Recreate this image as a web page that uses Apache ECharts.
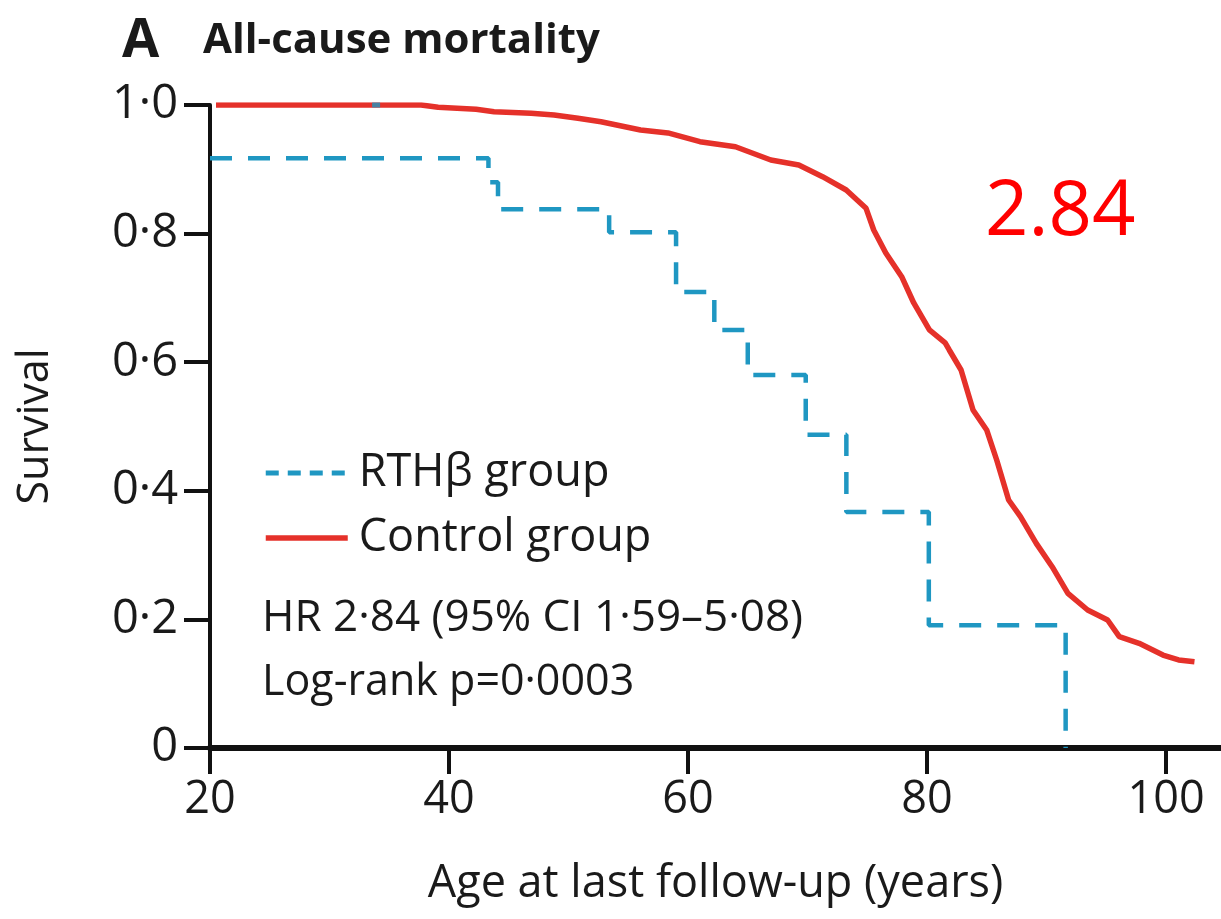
<!DOCTYPE html>
<html>
<head>
<meta charset="utf-8">
<script src="https://cdn.jsdelivr.net/npm/echarts@6/dist/echarts.min.js"></script>
<style>
  html, body { margin: 0; padding: 0; background: #ffffff; }
  #chart { width: 1221px; height: 919px; }
</style>
</head>
<body>
<div id="chart"></div>
<script>
// Axis ticks
const xTicks = [20, 40, 60, 80, 100];
const yTicks = [0, 0.2, 0.4, 0.6, 0.8, 1.0];

// RTHβ group: Kaplan–Meier steps (age at event, survival after event)
const rthAge  = [20, 43.3, 44.1, 53.4, 59.0, 62.2, 65.0, 69.85, 73.25, 80.15, 91.6];
const rthSurv = [0.917, 0.88, 0.838, 0.802, 0.709, 0.65, 0.58, 0.487, 0.367, 0.191, 0];

// RTHβ censoring mark
const rthCensorAge  = [33.9];
const rthCensorSurv = [1.0];

// Control group survival curve
const ctrlAge  = [20.5, 37.67, 39.09, 42.27, 43.77, 46.87, 48.79, 50.79, 52.72, 56.03, 58.32,
                  61.0, 63.97, 66.93, 69.27, 71.26, 73.24, 74.9, 75.54, 76.55, 77.88, 78.89,
                  80.2, 81.52, 81.86, 82.85, 83.85, 84.99, 85.83, 86.83, 87.82, 89.14, 90.47,
                  91.79, 93.44, 95.11, 96.09, 97.75, 99.74, 101.05, 102.38];
const ctrlSurv = [1.0, 1.0, 0.9964, 0.9933, 0.9896, 0.9871, 0.9844, 0.9793, 0.974, 0.9611, 0.9565,
                  0.9429, 0.9351, 0.9145, 0.9067, 0.8885, 0.8678, 0.8393, 0.8056, 0.7698, 0.733, 0.6921,
                  0.6501, 0.6299, 0.619, 0.5879, 0.5257, 0.4946, 0.4479, 0.3857, 0.3597, 0.3183, 0.282,
                  0.2406, 0.2146, 0.1991, 0.1731, 0.1628, 0.1446, 0.1369, 0.1342];

// Summary statistics
const hrValue = '2.84';
const hrText = 'HR 2·84 (95% CI 1·59–5·08)';
const pText = 'Log-rank p=0·0003';

const FONT = '"Open Sans", "Noto Sans", sans-serif';
const INK = '#1a1a1a';
const RED = '#e5312a';
const BLUE = '#1f97c2';

const zip = (a, b) => a.map((v, i) => [v, b[i]]);

const chart = echarts.init(document.getElementById('chart'), null, { renderer: 'canvas' });

chart.setOption({
  backgroundColor: '#ffffff',
  animation: false,
  title: [
    { text: 'A', left: 117, top: 10,
      textStyle: { fontFamily: FONT, fontSize: 54, fontWeight: 'bold', color: INK } },
    { text: 'All-cause mortality', left: 198, top: 15,
      textStyle: { fontFamily: FONT, fontSize: 42, fontWeight: 'bold', color: INK } }
  ],
  grid: { left: 210, right: 0, top: 105, bottom: 171, containLabel: false },
  legend: {
    orient: 'vertical',
    left: 258,
    top: 444,
    itemWidth: 82,
    itemHeight: 14,
    itemGap: 17,
    selectedMode: false,
    itemStyle: { opacity: 0 },
    textStyle: { fontFamily: FONT, fontSize: 45, color: INK, lineHeight: 48, padding: [0, 0, 0, 6] },
    data: [
      { name: 'RTHβ group', lineStyle: { type: [13, 9], width: 5 }, itemStyle: { opacity: 0 } },
      { name: 'Control group', lineStyle: { width: 5.5 }, itemStyle: { opacity: 0 } }
    ]
  },
  xAxis: {
    type: 'value',
    min: 20,
    max: 104.6,
    interval: 20,
    name: 'Age at last follow-up (years)',
    nameLocation: 'middle',
    nameGap: 112,
    nameTextStyle: { fontFamily: FONT, fontSize: 45, color: INK, lineHeight: 48 },
    axisLine: { show: true, lineStyle: { color: '#111111', width: 6 } },
    axisTick: { show: true, inside: false, length: 26, customValues: xTicks,
                lineStyle: { color: '#111111', width: 4 } },
    axisLabel: { customValues: xTicks, margin: 28, fontFamily: FONT, fontSize: 45,
                 color: INK, lineHeight: 48 },
    splitLine: { show: false }
  },
  yAxis: {
    type: 'value',
    min: 0,
    max: 1,
    interval: 0.2,
    name: 'Survival',
    nameLocation: 'middle',
    nameGap: 153,
    nameTextStyle: { fontFamily: FONT, fontSize: 43, color: INK },
    axisLine: { show: true, lineStyle: { color: '#111111', width: 4 } },
    axisTick: { show: true, inside: false, length: 26, customValues: yTicks,
                lineStyle: { color: '#111111', width: 4 } },
    axisLabel: {
      customValues: yTicks,
      margin: 32,
      fontFamily: FONT, fontSize: 47, color: INK,
      formatter: v => (v === 0 ? '0' : v.toFixed(1).replace('.', '·'))
    },
    splitLine: { show: false }
  },
  graphic: [
    { type: 'text', left: 262, top: 596,
      style: { text: hrText, font: '44px ' + FONT, fill: INK } },
    { type: 'text', left: 262, top: 661,
      style: { text: pText, font: '43px ' + FONT, fill: INK } },
    { type: 'text', left: 985, top: 175,
      style: { text: hrValue, font: '76px ' + FONT, fill: '#ff0000' } }
  ],
  series: [
    {
      name: 'Control group',
      type: 'line',
      data: zip(ctrlAge, ctrlSurv),
      symbol: 'none',
      lineStyle: { color: RED, width: 5.5 },
      itemStyle: { color: RED },
      z: 3
    },
    {
      name: 'RTHβ group',
      type: 'line',
      step: 'end',
      data: zip(rthAge, rthSurv),
      symbol: 'none',
      lineStyle: { color: BLUE, width: 4.5, type: [22, 16] },
      itemStyle: { color: BLUE },
      z: 4
    },
    {
      name: 'RTHβ censored',
      type: 'scatter',
      data: zip(rthCensorAge, rthCensorSurv),
      symbol: 'rect',
      symbolSize: [8, 5],
      itemStyle: { color: BLUE },
      z: 5
    }
  ]
});
</script>
</body>
</html>
